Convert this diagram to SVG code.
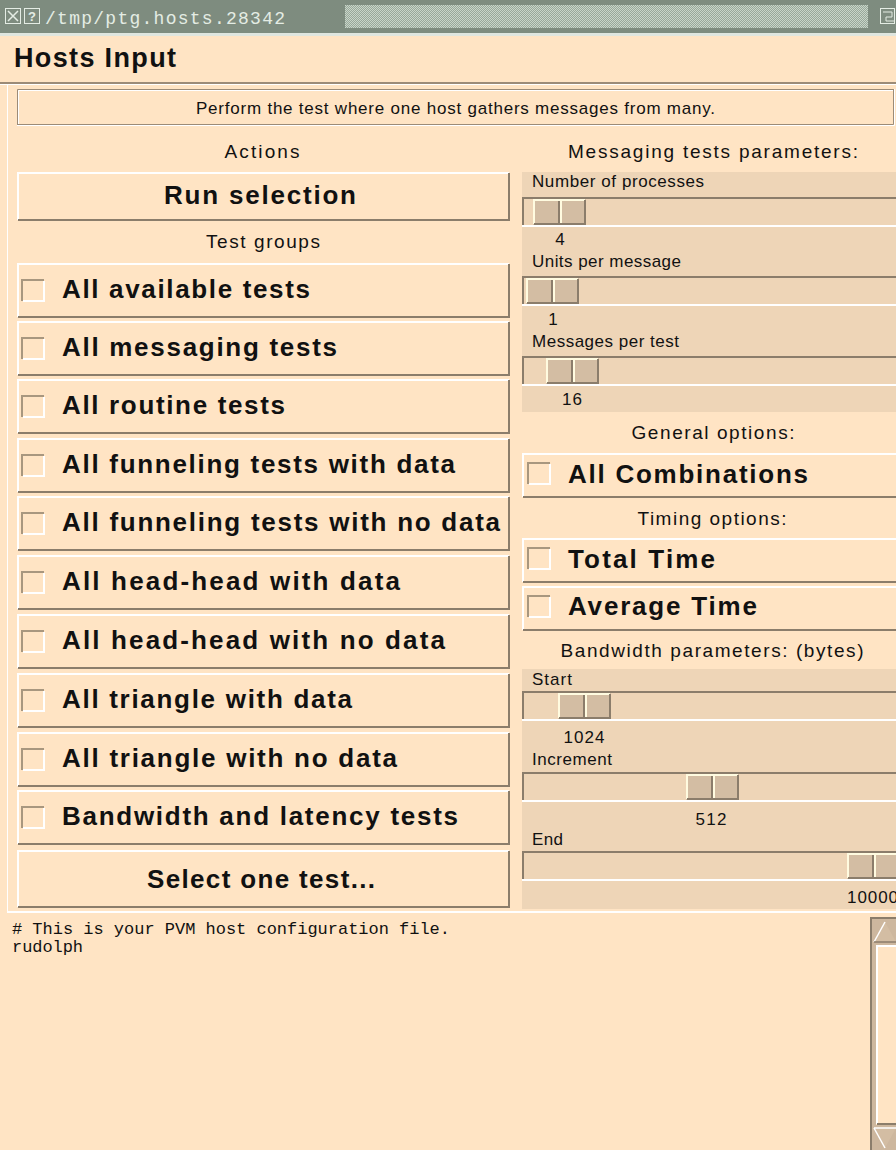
<svg xmlns="http://www.w3.org/2000/svg" width="896" height="1150" viewBox="0 0 896 1150">
<style>
.t{font-family:"Liberation Sans",Arial,sans-serif;fill:#111}
.b{font-weight:bold;font-size:26px}
.s{font-size:19px}
.v{font-size:17px}
.m{font-family:"Liberation Mono","DejaVu Sans Mono",monospace;fill:#111}
.hl{stroke:#ffffff;stroke-width:2;fill:none}
.sh{stroke:#8b7d6b;stroke-width:2;fill:none}
.mid{text-anchor:middle}
</style>
<defs>
<pattern id="stip" width="2" height="2" patternUnits="userSpaceOnUse">
<rect width="2" height="2" fill="#98a89a"/>
<rect width="1" height="1" fill="#c9d5c9"/>
<rect x="1" y="1" width="1" height="1" fill="#c9d5c9"/>
</pattern>
<g id="ind">
<rect width="24" height="23" fill="#ffe4c4"/>
<path d="M1,22 V1 H23" stroke="#a8977f" stroke-width="2" fill="none"/>
<path d="M2,22 H23 V2" stroke="#ffffff" stroke-width="2" fill="none"/>
</g>
<g id="lbtn">
<rect width="493" height="55" fill="#ffe4c4"/>
<path d="M1,54 V1 H492" class="hl"/>
<path d="M1,54 H492 V1" class="sh"/>
<use href="#ind" x="4" y="16"/>
</g>
<g id="rbtn">
<rect width="380" height="45" fill="#ffe4c4"/>
<path d="M1,44 V1 H380" class="hl"/>
<path d="M1,44 H380" class="sh"/>
<use href="#ind" x="5" y="9"/>
</g>
<g id="tr">
<rect width="380" height="30" fill="#eed5b7"/>
<path d="M1,30 V1 H380" class="sh"/>
<path d="M0,29 H380" class="hl"/>
</g>
<g id="sld">
<rect width="53" height="26" fill="#d3bda3"/>
<path d="M1,25 V1 H52" stroke="#fffbe0" stroke-width="2" fill="none"/>
<path d="M1,25 H52 V1" class="sh"/>
<line x1="26" y1="2" x2="26" y2="24" class="sh"/>
<line x1="28" y1="2" x2="28" y2="24" stroke="#fffbe0" stroke-width="2"/>
</g>
</defs>

<rect x="0" y="0" width="896" height="1150" fill="#ffe4c4"/>

<g id="titlebar">
<rect x="0" y="0" width="896" height="33" fill="#7e8c7f"/>
<rect x="0" y="33" width="896" height="3" fill="#dfe6df"/>
<rect x="5.5" y="8.5" width="15" height="15" fill="none" stroke="#e4ece4"/>
<path d="M8,11 L18,21 M18,11 L8,21" stroke="#e4ece4" stroke-width="1.5"/>
<rect x="24.5" y="8.5" width="15" height="15" fill="none" stroke="#e4ece4"/>
<text x="32" y="21" font-family="Liberation Sans,sans-serif" font-size="13" font-weight="bold" fill="#e4ece4" text-anchor="middle">?</text>
<text x="45" y="24" class="m" font-size="18" style="fill:#e4ece4" textLength="240">/tmp/ptg.hosts.28342</text>
<rect x="345" y="5" width="523" height="23" fill="url(#stip)"/>
<rect x="880.5" y="8.5" width="14" height="15" fill="none" stroke="#e4ece4"/>
<path d="M883,12 H892 V17 H886 V21 H894" stroke="#e4ece4" fill="none"/>
</g>

<g id="header">
<text x="14" y="67" class="t" font-weight="bold" font-size="27" textLength="162">Hosts Input</text>
<rect x="0" y="82" width="896" height="2" fill="#9c8b77"/>
<rect x="0" y="84" width="896" height="1" fill="#ffffff"/>
<rect x="7" y="85" width="1" height="827" fill="#ffffff"/>
</g>

<g id="message">
<rect x="17" y="89" width="877" height="36" fill="#ffe4c4"/>
<path d="M17.5,125 V89.5 H894" stroke="#9c8b77" fill="none"/>
<path d="M18.5,124 V90.5 H893" stroke="#ffffff" fill="none"/>
<path d="M18,124.5 H893.5 V90" stroke="#9c8b77" fill="none"/>
<path d="M17,125.5 H894.5 V89" stroke="#ffffff" fill="none"/>
<text x="196" y="114" class="t" font-size="17" textLength="519">Perform the test where one host gathers messages from many.</text>
</g>

<g id="actions-label"><text x="262" y="158" class="t s mid" textLength="75">Actions</text></g>

<g id="run-selection">
<rect x="17" y="172" width="493" height="49" fill="#ffe4c4"/>
<path d="M18,220 V173 H509" class="hl"/>
<path d="M18,220 H509 V173" class="sh"/>
<text x="260" y="204" class="t b mid" textLength="192">Run selection</text>
</g>

<g id="testgroups-label"><text x="263" y="248" class="t s mid" textLength="114">Test groups</text></g>

<g id="cb-all-available"><use href="#lbtn" x="17" y="263"/><text x="62" y="298" class="t b" textLength="248">All available tests</text></g>
<g id="cb-all-messaging"><use href="#lbtn" x="17" y="321"/><text x="62" y="356" class="t b" textLength="275">All messaging tests</text></g>
<g id="cb-all-routine"><use href="#lbtn" x="17" y="379"/><text x="62" y="414" class="t b" textLength="223">All routine tests</text></g>
<g id="cb-funnel-data"><use href="#lbtn" x="17" y="438"/><text x="62" y="473" class="t b" textLength="393">All funneling tests with data</text></g>
<g id="cb-funnel-nodata"><use href="#lbtn" x="17" y="496"/><text x="62" y="531" class="t b" textLength="438">All funneling tests with no data</text></g>
<g id="cb-head-data"><use href="#lbtn" x="17" y="555"/><text x="62" y="590" class="t b" textLength="338">All head-head with data</text></g>
<g id="cb-head-nodata"><use href="#lbtn" x="17" y="614"/><text x="62" y="649" class="t b" textLength="383">All head-head with no data</text></g>
<g id="cb-tri-data"><use href="#lbtn" x="17" y="673"/><text x="62" y="708" class="t b" textLength="290">All triangle with data</text></g>
<g id="cb-tri-nodata"><use href="#lbtn" x="17" y="732"/><text x="62" y="767" class="t b" textLength="335">All triangle with no data</text></g>
<g id="cb-bandwidth"><use href="#lbtn" x="17" y="790"/><text x="62" y="825" class="t b" textLength="396">Bandwidth and latency tests</text></g>

<g id="select-one">
<rect x="17" y="850" width="493" height="58" fill="#ffe4c4"/>
<path d="M18,907 V851 H509" class="hl"/>
<path d="M18,907 H509 V851" class="sh"/>
<text x="261" y="888" class="t b mid" textLength="228">Select one test...</text>
</g>

<g id="msg-params-label"><text x="713" y="158" class="t s mid" textLength="290">Messaging tests parameters:</text></g>

<g id="messaging-scales">
<rect x="522" y="172" width="378" height="240" fill="#eed5b7"/>
<text x="532" y="187" class="t v" textLength="172">Number of processes</text>
<use href="#tr" x="522" y="197"/>
<use href="#sld" x="533" y="199"/>
<text x="560" y="245" class="t v mid">4</text>
<text x="532" y="267" class="t v" textLength="149">Units per message</text>
<use href="#tr" x="522" y="276"/>
<use href="#sld" x="526" y="278"/>
<text x="553" y="325" class="t v mid">1</text>
<text x="532" y="347" class="t v" textLength="147">Messages per test</text>
<use href="#tr" x="522" y="356"/>
<use href="#sld" x="546" y="358"/>
<text x="572" y="405" class="t v mid" textLength="20">16</text>
</g>

<g id="general-label"><text x="713" y="439" class="t s mid" textLength="163">General options:</text></g>
<g id="cb-all-combinations"><use href="#rbtn" x="522" y="453"/><text x="568" y="483" class="t b" textLength="240">All Combinations</text></g>

<g id="timing-label"><text x="712" y="525" class="t s mid" textLength="149">Timing options:</text></g>
<g id="cb-total-time"><use href="#rbtn" x="522" y="538"/><text x="568" y="568" class="t b" textLength="147">Total Time</text></g>
<g id="cb-average-time"><use href="#rbtn" x="522" y="586"/><text x="568" y="615" class="t b" textLength="189">Average Time</text></g>

<g id="bandwidth-label"><text x="712" y="657" class="t s mid" textLength="303">Bandwidth parameters: (bytes)</text></g>

<g id="bandwidth-scales">
<rect x="522" y="669" width="378" height="240" fill="#eed5b7"/>
<text x="532" y="685" class="t v" textLength="40">Start</text>
<use href="#tr" x="522" y="691"/>
<use href="#sld" x="558" y="693"/>
<text x="584" y="743" class="t v mid" textLength="41">1024</text>
<text x="532" y="765" class="t v" textLength="80">Increment</text>
<use href="#tr" x="522" y="772"/>
<use href="#sld" x="686" y="774"/>
<text x="711" y="825" class="t v mid" textLength="31">512</text>
<text x="532" y="845" class="t v" textLength="31">End</text>
<use href="#tr" x="522" y="851"/>
<use href="#sld" x="847" y="853"/>
<text x="847" y="903" class="t v" textLength="51">10000</text>
</g>

<g id="hosts-text">
<rect x="7" y="911" width="889" height="2" fill="#ffffff"/>
<text x="12" y="934" class="m" font-size="17" textLength="438"># This is your PVM host configuration file.</text>
<text x="12" y="952" class="m" font-size="17" textLength="71">rudolph</text>
</g>

<g id="scrollbar">
<rect x="870" y="917" width="26" height="233" fill="#cdb79e"/>
<path d="M871,1150 V918 H896" class="sh"/>
<polygon points="885,922 874,942 896,942" fill="#d3bda3"/>
<path d="M874,942 L885,922" stroke="#ffffff" stroke-width="1.5"/>
<path d="M874,942 H896" stroke="#8b7d6b" stroke-width="1.5"/>
<rect x="876" y="945" width="20" height="180" fill="#ffe4c4"/>
<path d="M877,1124 V946 H896" class="hl"/>
<path d="M877,1124 H896" class="sh"/>
<polygon points="874,1128 896,1128 885,1148" fill="#d3bda3"/>
<path d="M874,1128 H896" stroke="#ffffff" stroke-width="1.5"/>
<path d="M874,1128 L885,1148" stroke="#ffffff" stroke-width="1.5"/>
</g>
</svg>
